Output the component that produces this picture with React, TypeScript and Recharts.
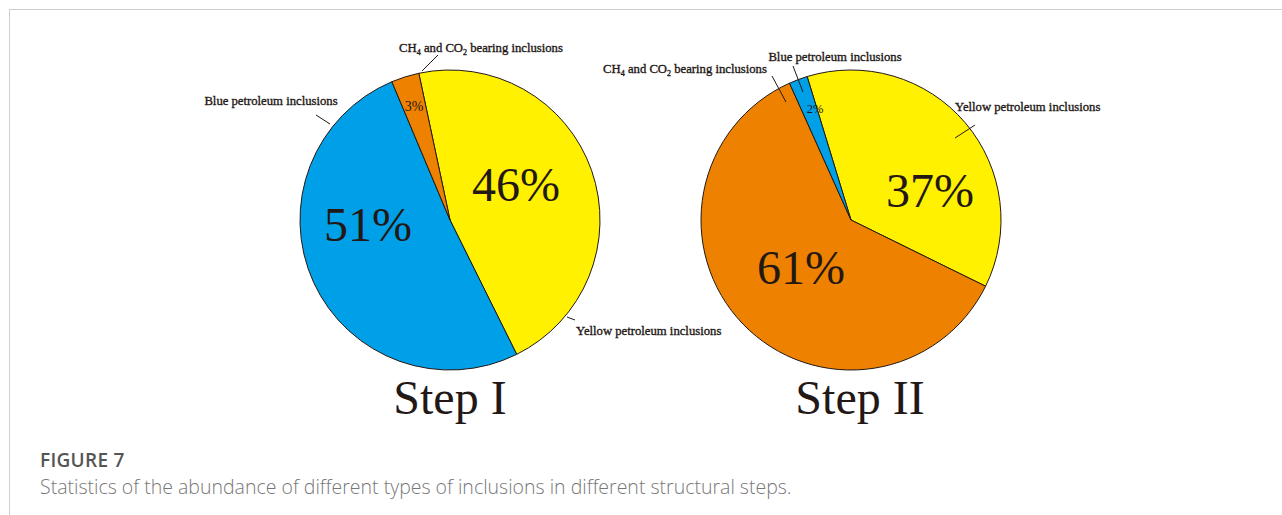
import React from 'react';
import { PieChart, Pie, Cell } from 'recharts';

// Inclusion types and their share (%) in each structural step
const stepICategories = ['Yellow petroleum inclusions', 'Blue petroleum inclusions', 'CH4 and CO2 bearing inclusions'];
const stepIValues = [46, 51, 3];

const stepIICategories = ['Yellow petroleum inclusions', 'CH4 and CO2 bearing inclusions', 'Blue petroleum inclusions'];
const stepIIValues = [37, 61, 2];

const stepTitles = ['Step I', 'Step II'];

const COLORS: Record<string, string> = {
    'Yellow petroleum inclusions': '#FFF100',
    'Blue petroleum inclusions': '#00A0E9',
    'CH4 and CO2 bearing inclusions': '#EE8200',
};

const INK = '#231815';
const SERIF = "'Liberation Serif', 'Times New Roman', serif";
const RADIUS = 150;

type SliceLayout = {
    pct: [number, number, number]; // dx, baseline dy, font size
    name: [number, number, 'start' | 'middle' | 'end'];
    leader: [number, number, number, number];
};

// label placement, offsets from the pie centre
const stepILayout: SliceLayout[] = [
    { pct: [66, -19, 48], name: [126, 115, 'start'], leader: [117, 97, 125, 100] },
    { pct: [-82, 21, 48], name: [-179, -115, 'middle'], leader: [-134, -105, -120, -96] },
    { pct: [-36, -109, 14], name: [31, -168, 'middle'], leader: [-28, -149, -12, -165] },
];

const stepIILayout: SliceLayout[] = [
    { pct: [79, -13, 48], name: [104, -109, 'start'], leader: [124, -95, 104, -82] },
    { pct: [-50, 64, 48], name: [-166, -147, 'middle'], leader: [-79, -144, -65, -118] },
    { pct: [-36, -107, 12.5], name: [-16, -159, 'middle'], leader: [-58, -154, -48, -128] },
];

const toRows = (names: string[], values: number[]) => names.map((name, i) => ({ name, value: values[i] }));

// chemical formulas: digits following a letter become subscripts
function formulaText(name: string) {
    const parts = name.split(/(?<=[A-Z])(\d)/);
    const out: React.ReactNode[] = [];
    let shifted = false;
    parts.forEach((p, i) => {
        if (i % 2 === 1) {
            out.push(<tspan key={i} fontSize={8} dy={3}>{p}</tspan>);
            shifted = true;
        } else if (p) {
            out.push(<tspan key={i} dy={shifted ? -3 : 0}>{p}</tspan>);
            shifted = false;
        }
    });
    return out;
}

const makeLabel = (layout: SliceLayout[]) => (props: any) => {
    const { cx, cy, index, value, name } = props;
    const l = layout[index];
    return (
        <g>
            <line
                x1={cx + l.leader[0]} y1={cy + l.leader[1]}
                x2={cx + l.leader[2]} y2={cy + l.leader[3]}
                stroke={INK} strokeWidth={1}
            />
            <text
                x={cx + l.pct[0]} y={cy + l.pct[1]} fontSize={l.pct[2]}
                textAnchor="middle" fill={INK} fontFamily={SERIF}
            >
                {`${value}%`}
            </text>
            <text
                x={cx + l.name[0]} y={cy + l.name[1]} fontSize={12.7}
                textAnchor={l.name[2]} fill={INK} fontFamily={SERIF}
                stroke={INK} strokeWidth={0.35}
            >
                {formulaText(name)}
            </text>
        </g>
    );
};

export default function App() {
    const stepI = toRows(stepICategories, stepIValues);
    const stepII = toRows(stepIICategories, stepIIValues);

    return (
        <div style={{ position: 'absolute', left: 0, top: 0, width: 1282, height: 515, background: '#fff', overflow: 'hidden' }}>
            <div style={{ position: 'absolute', left: 9, top: 9, width: 1290, height: 520, border: '1px solid #cfcfcf', boxSizing: 'border-box' }} />
            <div style={{ position: 'absolute', left: 0, top: 0 }}>
                <PieChart width={1282} height={430} margin={{ top: 0, right: 0, bottom: 0, left: 0 }}>
                    <Pie
                        data={stepI} dataKey="value" nameKey="name"
                        cx={450} cy={220} outerRadius={RADIUS}
                        startAngle={102} endAngle={-258}
                        stroke={INK} strokeWidth={1}
                        label={makeLabel(stepILayout)} labelLine={false}
                        isAnimationActive={false}
                    >
                        {stepI.map((d) => <Cell key={d.name} fill={COLORS[d.name]} />)}
                    </Pie>
                    <Pie
                        data={stepII} dataKey="value" nameKey="name"
                        cx={851} cy={220} outerRadius={RADIUS}
                        startAngle={107} endAngle={-253}
                        stroke={INK} strokeWidth={1}
                        label={makeLabel(stepIILayout)} labelLine={false}
                        isAnimationActive={false}
                    >
                        {stepII.map((d) => <Cell key={d.name} fill={COLORS[d.name]} />)}
                    </Pie>
                </PieChart>
            </div>
            <svg width={1282} height={430} style={{ position: 'absolute', left: 0, top: 0, pointerEvents: 'none' }}>
                <text x={450} y={414} fontSize={48} textAnchor="middle" fill={INK} fontFamily={SERIF}>{stepTitles[0]}</text>
                <text x={860} y={414} fontSize={48} textAnchor="middle" fill={INK} fontFamily={SERIF}>{stepTitles[1]}</text>
            </svg>
            <div style={{ position: 'absolute', left: 40, top: 448, fontFamily: "'Open Sans', sans-serif", color: '#555', fontSize: 19, lineHeight: '24px', fontWeight: 600, letterSpacing: 0.3 }}>
                FIGURE 7
            </div>
            <div style={{ position: 'absolute', left: 40, top: 475, fontFamily: "'Open Sans', sans-serif", color: '#777', fontSize: 19.5, lineHeight: '24px', fontWeight: 300 }}>
                Statistics of the abundance of different types of inclusions in different structural steps.
            </div>
        </div>
    );
}
